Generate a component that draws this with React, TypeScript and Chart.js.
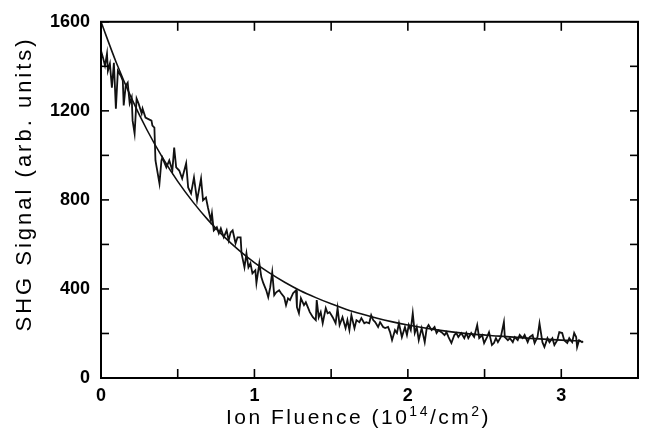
import React, { useEffect, useRef } from "react";
import { Chart, registerables } from "chart.js";

Chart.register(...registerables);

// Measured SHG signal vs ion fluence (10^14 / cm^2)
const fluence = [
  0, 0.013, 0.026, 0.039, 0.045, 0.058, 0.071, 0.084, 0.097, 0.11, 0.129, 0.142, 0.148, 0.161, 0.174, 0.187,
  0.2, 0.206, 0.219, 0.232, 0.245, 0.265, 0.271, 0.29, 0.303, 0.329, 0.335, 0.348, 0.355, 0.381, 0.394, 0.4,
  0.426, 0.445, 0.465, 0.477, 0.49, 0.51, 0.529, 0.555, 0.568, 0.587, 0.606, 0.626, 0.652, 0.665, 0.684, 0.697,
  0.716, 0.723, 0.735, 0.755, 0.768, 0.781, 0.8, 0.819, 0.832, 0.845, 0.858, 0.877, 0.89, 0.91, 0.916, 0.935,
  0.948, 0.961, 0.974, 0.987, 1.006, 1.013, 1.032, 1.045, 1.058, 1.077, 1.09, 1.103, 1.116, 1.129, 1.142, 1.161,
  1.174, 1.194, 1.206, 1.219, 1.232, 1.252, 1.271, 1.277, 1.29, 1.303, 1.323, 1.335, 1.348, 1.361, 1.381, 1.4,
  1.406, 1.419, 1.432, 1.445, 1.465, 1.477, 1.49, 1.51, 1.529, 1.542, 1.555, 1.574, 1.594, 1.606, 1.619, 1.632,
  1.652, 1.665, 1.684, 1.697, 1.716, 1.729, 1.748, 1.761, 1.774, 1.787, 1.806, 1.819, 1.839, 1.852, 1.871, 1.884,
  1.897, 1.916, 1.929, 1.942, 1.961, 1.981, 1.994, 2.006, 2.019, 2.032, 2.045, 2.058, 2.071, 2.09, 2.11, 2.123,
  2.135, 2.155, 2.174, 2.187, 2.2, 2.219, 2.239, 2.252, 2.265, 2.284, 2.303, 2.316, 2.329, 2.348, 2.368, 2.381,
  2.394, 2.413, 2.432, 2.452, 2.465, 2.484, 2.497, 2.516, 2.529, 2.548, 2.561, 2.574, 2.587, 2.606, 2.626, 2.632,
  2.652, 2.665, 2.684, 2.697, 2.716, 2.729, 2.748, 2.761, 2.781, 2.794, 2.813, 2.826, 2.845, 2.858, 2.877, 2.89,
  2.91, 2.923, 2.942, 2.955, 2.974, 2.987, 3.006, 3.019, 3.039, 3.052, 3.071, 3.084, 3.097, 3.103, 3.116, 3.135,
  3.142,
];
const shgSignal = [
  1470, 1439, 1403, 1457, 1380, 1412, 1304, 1416, 1210, 1380, 1358, 1336, 1224, 1313, 1327, 1233,
  1260, 1156, 1098, 1255, 1233, 1188, 1210, 1170, 1165, 1156, 1134, 1125, 977, 874, 977, 990,
  946, 977, 932, 1035, 946, 932, 896, 964, 856, 829, 901, 798, 896, 798, 811, 766,
  708, 739, 663, 677, 650, 672, 632, 663, 618, 654, 663, 605, 632, 632, 560, 497,
  560, 497, 515, 470, 484, 426, 515, 453, 426, 394, 363, 408, 475, 372, 385, 394,
  381, 363, 327, 358, 350, 381, 394, 318, 291, 358, 327, 340, 318, 296, 273, 260,
  350, 273, 296, 246, 314, 291, 296, 273, 246, 314, 238, 273, 224, 260, 215, 282,
  224, 260, 251, 269, 246, 251, 246, 282, 260, 251, 229, 251, 229, 224, 229, 206,
  170, 215, 202, 246, 184, 229, 193, 238, 215, 291, 202, 229, 170, 224, 161, 224,
  238, 215, 229, 202, 215, 206, 193, 206, 184, 157, 193, 202, 184, 202, 179, 202,
  179, 202, 184, 238, 179, 193, 157, 184, 206, 148, 157, 179, 161, 184, 251, 184,
  170, 179, 161, 184, 170, 193, 179, 193, 161, 184, 193, 157, 184, 246, 161, 139,
  179, 161, 179, 148, 170, 206, 202, 170, 157, 179, 161, 202, 184, 139, 170, 161,
  165,
];

// Fitted decay curve
const fitFluence = [0, 0.1, 0.2, 0.3, 0.4, 0.5, 0.6, 0.7, 0.8, 0.9, 1.0, 1.1, 1.2, 1.3, 1.4, 1.5, 1.6, 1.7, 1.8, 1.9, 2.0, 2.2, 2.4, 2.6, 2.8, 3.0, 3.13];
const fitSignal = [1600, 1416, 1255, 1114, 991, 883, 790, 708, 636, 573, 518, 471, 429, 392, 361, 333, 308, 287, 268, 252, 238, 215, 198, 188, 178, 170, 166];

const xTickLabels = ["0", "1", "2", "3"];
const yTickLabels = ["0", "400", "800", "1200", "1600"];

const X_TITLE_PARTS: [string, boolean][] = [["Ion Fluence (10", false], ["14", true], ["/cm", false], ["2", true], [")", false]];
const Y_TITLE = "SHG Signal (arb. units)";

const FONT = "'Liberation Sans', Arial, Helvetica, sans-serif";

const framePlugin = {
  id: "frameTicks",
  afterDraw(chart: any) {
    const { ctx, chartArea } = chart;
    const { left, right, top, bottom } = chartArea;
    const xs = chart.scales.x;
    const ys = chart.scales.y;
    ctx.save();
    ctx.strokeStyle = "#000";
    ctx.lineWidth = 2;
    ctx.strokeRect(left, top, right - left, bottom - top);
    ctx.lineWidth = 1.6;
    const line = (a: number, b: number, c: number, d: number) => {
      ctx.beginPath();
      ctx.moveTo(a, b);
      ctx.lineTo(c, d);
      ctx.stroke();
    };
    xs.ticks.forEach((t: any) => {
      const px = xs.getPixelForValue(t.value);
      line(px, bottom, px, bottom - 9);
      line(px, top, px, top + 9);
    });
    ys.ticks.forEach((t: any) => {
      const py = ys.getPixelForValue(t.value);
      line(left, py, left + 8, py);
      line(right, py, right - 8, py);
    });

    // axis titles
    ctx.fillStyle = "#000";
    (ctx as any).letterSpacing = "2.5px";
    const big = `21px ${FONT}`;
    const small = `14px ${FONT}`;
    let total = 0;
    X_TITLE_PARTS.forEach(([s, sup]) => {
      ctx.font = sup ? small : big;
      total += ctx.measureText(s).width;
    });
    let cx = (left + right) / 2 - 11 - total / 2;
    const baseY = bottom + 46;
    ctx.textAlign = "left";
    ctx.textBaseline = "alphabetic";
    X_TITLE_PARTS.forEach(([s, sup]) => {
      ctx.font = sup ? small : big;
      ctx.fillText(s, cx, sup ? baseY - 8 : baseY);
      cx += ctx.measureText(s).width;
    });
    // y title rotated
    ctx.font = `22px ${FONT}`;
    (ctx as any).letterSpacing = "3px";
    ctx.translate(left - 76, (top + bottom) / 2 - 16);
    ctx.rotate(-Math.PI / 2);
    ctx.textAlign = "center";
    ctx.textBaseline = "middle";
    ctx.fillText(Y_TITLE, 0, 0);
    ctx.restore();
  },
};

export default function App() {
  const ref = useRef<HTMLCanvasElement>(null);
  useEffect(() => {
    if (!ref.current) return;
    const chart = new Chart(ref.current, {
      type: "line",
      data: {
        datasets: [
          {
            label: "SHG signal",
            data: fluence.map((x, i) => ({ x, y: shgSignal[i] })),
            borderColor: "#111",
            borderWidth: 1.8,
            pointRadius: 0,
            tension: 0,
          },
          {
            label: "Fit",
            data: fitFluence.map((x, i) => ({ x, y: fitSignal[i] })),
            borderColor: "#111",
            borderWidth: 1.6,
            pointRadius: 0,
            cubicInterpolationMode: "monotone",
          },
        ],
      },
      options: {
        responsive: false,
        animation: false,
        layout: { padding: { top: 21, right: 1, left: 0, bottom: 0 } },
        plugins: { legend: { display: false }, tooltip: { enabled: false } },
        scales: {
          x: {
            type: "linear",
            min: 0,
            max: 3.5,
            grid: { display: false, drawTicks: false },
            border: { display: false },
            ticks: {
              stepSize: 0.5,
              autoSkip: false,
              maxRotation: 0,
              padding: 7,
              color: "#000",
              font: { family: FONT, size: 18, weight: "bold" },
              callback: (v: any) => (Number.isInteger(v) ? xTickLabels[v] ?? "" : ""),
            },
            afterFit: (s: any) => {
              s.height = 60;
            },
          },
          y: {
            type: "linear",
            min: 0,
            max: 1600,
            grid: { display: false, drawTicks: false },
            border: { display: false },
            ticks: {
              stepSize: 200,
              autoSkip: false,
              padding: 11,
              color: "#000",
              font: { family: FONT, size: 18, weight: "bold" },
              callback: (v: any) => (v % 400 === 0 ? yTickLabels[v / 400] ?? "" : ""),
            },
            afterFit: (s: any) => {
              s.width = 101;
            },
          },
        },
      },
      plugins: [framePlugin],
    });
    return () => chart.destroy();
  }, []);
  return (
    <div style={{ position: "absolute", left: 0, top: 0, width: 645, height: 438, background: "#fff" }}>
      <canvas ref={ref} width={645} height={438} style={{ display: "block" }} />
    </div>
  );
}
